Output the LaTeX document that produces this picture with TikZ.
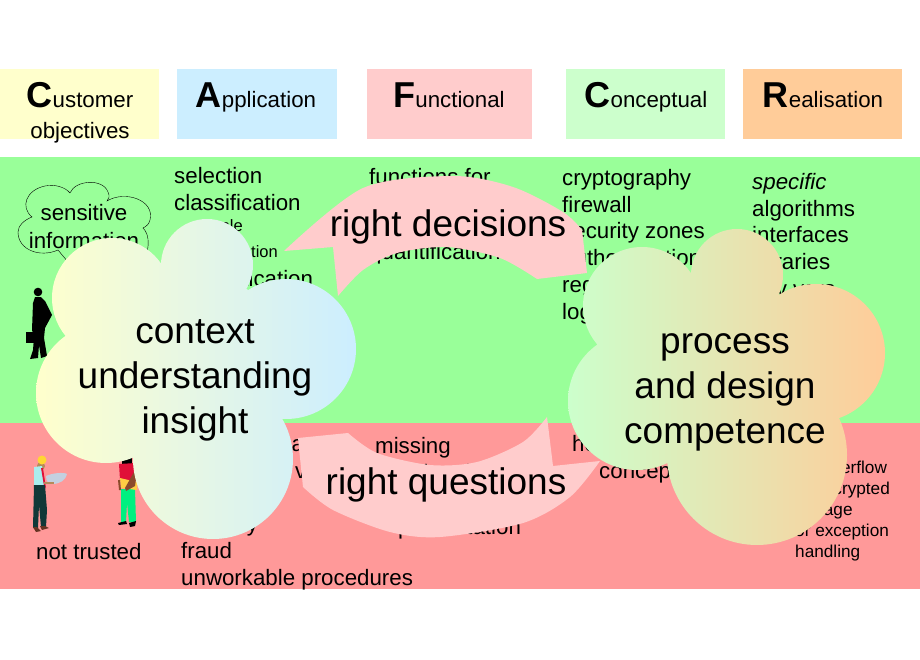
\documentclass[tikz,border=0pt]{standalone}
\usepackage{fontspec}
\setmainfont{Liberation Sans}
\definecolor{custyellow}{HTML}{FFFFCC}
\definecolor{appblue}{HTML}{CCEEFF}
\definecolor{funcpink}{HTML}{FFCCCC}
\definecolor{concgreen}{HTML}{CCFFCC}
\definecolor{realorange}{HTML}{FFCC99}
\definecolor{goodgreen}{HTML}{99FF99}
\definecolor{badred}{HTML}{FF9999}
\definecolor{hatyellow}{HTML}{FFD633}
\definecolor{skintan}{HTML}{B58A5A}
\definecolor{shirtcyan}{HTML}{AAEEEE}
\definecolor{pantsdark}{HTML}{103838}
\definecolor{paperblue}{HTML}{C4D0E0}
\definecolor{shoebrown}{HTML}{663322}
\definecolor{shirtred}{HTML}{E01038}
\definecolor{pantsgreen}{HTML}{00F080}
\definecolor{folderyellow}{HTML}{FFCC44}
\definecolor{armbrown}{HTML}{8B4A2B}
\tikzset{
  hdrbox/.style={inner sep=0, minimum height=70pt},
  hdrtext/.style={anchor=base, inner sep=0, font=\fontsize{22.3}{27}\selectfont},
  coltext/.style={anchor=north west, inner sep=0, align=left, font=\fontsize{22.3}{26.8}\selectfont},
  subtext/.style={anchor=north west, inner sep=0, align=left, font=\fontsize{16.5}{26}\selectfont},
  smalltext/.style={anchor=north west, inner sep=0, align=left, font=\fontsize{17.2}{21}\selectfont},
  bigtext/.style={inner sep=0, align=center, font=\fontsize{37}{45}\selectfont},
}
\newcommand{\hdrcap}[1]{\textbf{\fontsize{36}{36}\selectfont #1}}
\begin{document}
\begin{tikzpicture}[x=1pt,y=-1pt]
    \useasboundingbox (0,0) rectangle (920,660);

    \fill[goodgreen] (0,157) rectangle (920,423);
    \fill[badred] (0,423) rectangle (920,589);

    \node[hdrbox,fill=custyellow,minimum width=159pt] (custbox) at (79.5,104) {};
    \node[hdrbox,fill=appblue,minimum width=160pt] (appbox) at (257,104) {};
    \node[hdrbox,fill=funcpink,minimum width=165pt] (funcbox) at (449.5,104) {};
    \node[hdrbox,fill=concgreen,minimum width=159pt] (concbox) at (645.5,104) {};
    \node[hdrbox,fill=realorange,minimum width=159pt] (realbox) at (822.5,104) {};

    \node[hdrtext] (custhdr) at (80,108) {\hdrcap{C}ustomer};
    \node[hdrtext] (custobj) at (80,139) {objectives};
    \node[hdrtext] (apphdr) at (256,108) {\hdrcap{A}pplication};
    \node[hdrtext] (funchdr) at (449,108) {\hdrcap{F}unctional};
    \node[hdrtext] (conchdr) at (646,108) {\hdrcap{C}onceptual};
    \node[hdrtext] (realhdr) at (823,108) {\hdrcap{R}ealisation};

    % upper band
    \node[coltext] (appgood) at (174,167.5) {selection\\classification};
    \node[subtext] (apppeople) at (193,219) {people};
    \node[subtext] (appinfo) at (196,245) {information};
    \node[coltext] (appauth) at (174,270) {authentication};
    \node[coltext] (funcgood) at (369,168) {functions for};
    \node[coltext] (funcquant) at (369,243) {quantification};
    \node[coltext] (concgood) at (562,169) {cryptography\\firewall\\security zones\\authentication\\registration\\logging};
    \node[coltext] (realgood) at (752,173) {\textit{specific}\\algorithms\\interfaces\\libraries\\key vars};

    % lower band
    \node[coltext] (appbad) at (181,435) {unplanned act\\incomplete view\\~\\security\\fraud\\unworkable procedures};
    \node[coltext] (funcbad) at (375,437) {missing\\functionality};
    \node[coltext] (funcpres) at (398,518) {presentation};
    \node[coltext] (concholes) at (572,435) {holes in};
    \node[coltext] (concbad) at (599,464) {concept};
    \node[smalltext] (realbad) at (795,461) {log overflow\\unencrypted\\storage\\or exception\\handling};
    \node[coltext] (custbad) at (36,543) {not trusted};

    % thought balloon
    \draw[thin] (70,193) .. controls (75,180) and (103,178) .. (108,192)
        .. controls (110,196) and (109,199) .. (107,201)
        .. controls (125,190) and (155,200) .. (150,220)
        .. controls (149,224) and (147,226) .. (143,228)
        .. controls (149,234) and (149,244) .. (147,252)
        -- (68,262) -- (58,250)
        .. controls (40,258) and (18,250) .. (18,232)
        .. controls (18,226) and (24,220) .. (32,217)
        .. controls (20,207) and (26,190) .. (45,186)
        .. controls (55,184) and (65,187) .. (70,193);
    \node[hdrtext] (senstext) at (84,221) {sensitive};
    \node[hdrtext] (infotext) at (84,248) {information};

    % business man
    \fill[black] (38,292) circle (4.3);
    \fill[black] (35,297) -- (41,297) -- (45,301) -- (52,315) -- (45,328) -- (44,338)
        -- (47,356) -- (41,358) -- (39,345) -- (38,358) -- (30,359) -- (33,350)
        -- (34,337) -- (32,330) -- (33,303) -- cycle;
    \fill[black] (26,332) rectangle (34,343);

    % worker with drawing
    \fill[skintan] (41,466) circle (4);
    \fill[hatyellow] (42,460) circle (4.5);
    \fill[shirtcyan] (34,467) -- (42,466) -- (45,485) -- (34,485) -- cycle;
    \fill[shirtred] (41,468) -- (43,468) -- (46,488) -- (44,486) -- cycle;
    \fill[pantsdark] (34,485) -- (45,485) -- (47,510) -- (46,527) -- (41,527) -- (39,505) -- (38,528) -- (33,528) -- cycle;
    \fill[shoebrown] (33,527) -- (37,527) -- (41,531) -- (36,532) -- cycle;
    \fill[shoebrown] (40,526) -- (45,526) -- (49,528) -- (42,530) -- cycle;
    \fill[paperblue] (46,476) .. controls (52,473) and (64,472) .. (67,474)
        .. controls (66,480) and (60,484) .. (52,484) .. controls (49,484) and (46,482) .. (46,476);
    \fill[skintan] (44,482) rectangle (54,484);

    % worker with folder
    \fill[black] (122,458) rectangle (132,464);
    \fill[shirtred] (119,464) -- (136,463) -- (137,480) -- (120,480) -- cycle;
    \fill[pantsgreen] (121,489) -- (135,489) -- (136,522) -- (129,522) -- (127,503) -- (126,522) -- (121,522) -- cycle;
    \fill[folderyellow] (120,478) -- (137,482) -- (137,490) -- (121,488) -- cycle;
    \fill[armbrown] (134,472) -- (137,472) -- (135,486) -- (126,491) -- (125,488) -- cycle;
    \fill[armbrown] (118,480) -- (120,480) -- (121,490) -- (119,490) -- cycle;
    \fill[black] (118,523) -- (126,521) -- (127,524) -- (119,525) -- cycle;
    \fill[black] (129,523) -- (136,521) -- (135,526) -- (130,527) -- cycle;

    % arrows
    \fill[funcpink] plot[smooth] coordinates {(284,251) (363,188) (453,176) (513,187) (563,212) (582,230)}
        -- (587,273) -- (537,279)
        -- plot[smooth] coordinates {(537,279) (500,258) (447,247) (397,253) (363,270) (338,296)}
        -- (333,247) -- cycle;
    \fill[funcpink] (298,438) -- (348,433)
        -- plot[smooth] coordinates {(348,433) (377,453) (430,465) (477,462) (523,442) (547,417)}
        -- (553,466) -- (600,461)
        -- plot[smooth] coordinates {(600,461) (570,497) (523,523) (440,537) (390,532) (333,510) (303,487)}
        -- cycle;
    \node[bigtext] (decisions) at (448,227) {right decisions};
    \node[bigtext] (questions) at (446,485) {right questions};

    % clouds
    \shade[left color=custyellow,right color=appblue] (195,350) circle (80)
        (112,298) circle (60) (207,265) circle (46) (286,349) circle (70)
        (106,393) circle (70) (213,459) circle (80);
    \shade[left color=concgreen,right color=realorange] (725,370) circle (80)
        (642,306) circle (59) (737,275) circle (46) (816,353) circle (69)
        (637,401) circle (69) (757,455) circle (90);
    \node[bigtext] (contexttext) at (195,380) {context\\understanding\\insight};
    \node[bigtext] (processtext) at (725,392) {process\\and design\\competence};
\end{tikzpicture}
\end{document}
